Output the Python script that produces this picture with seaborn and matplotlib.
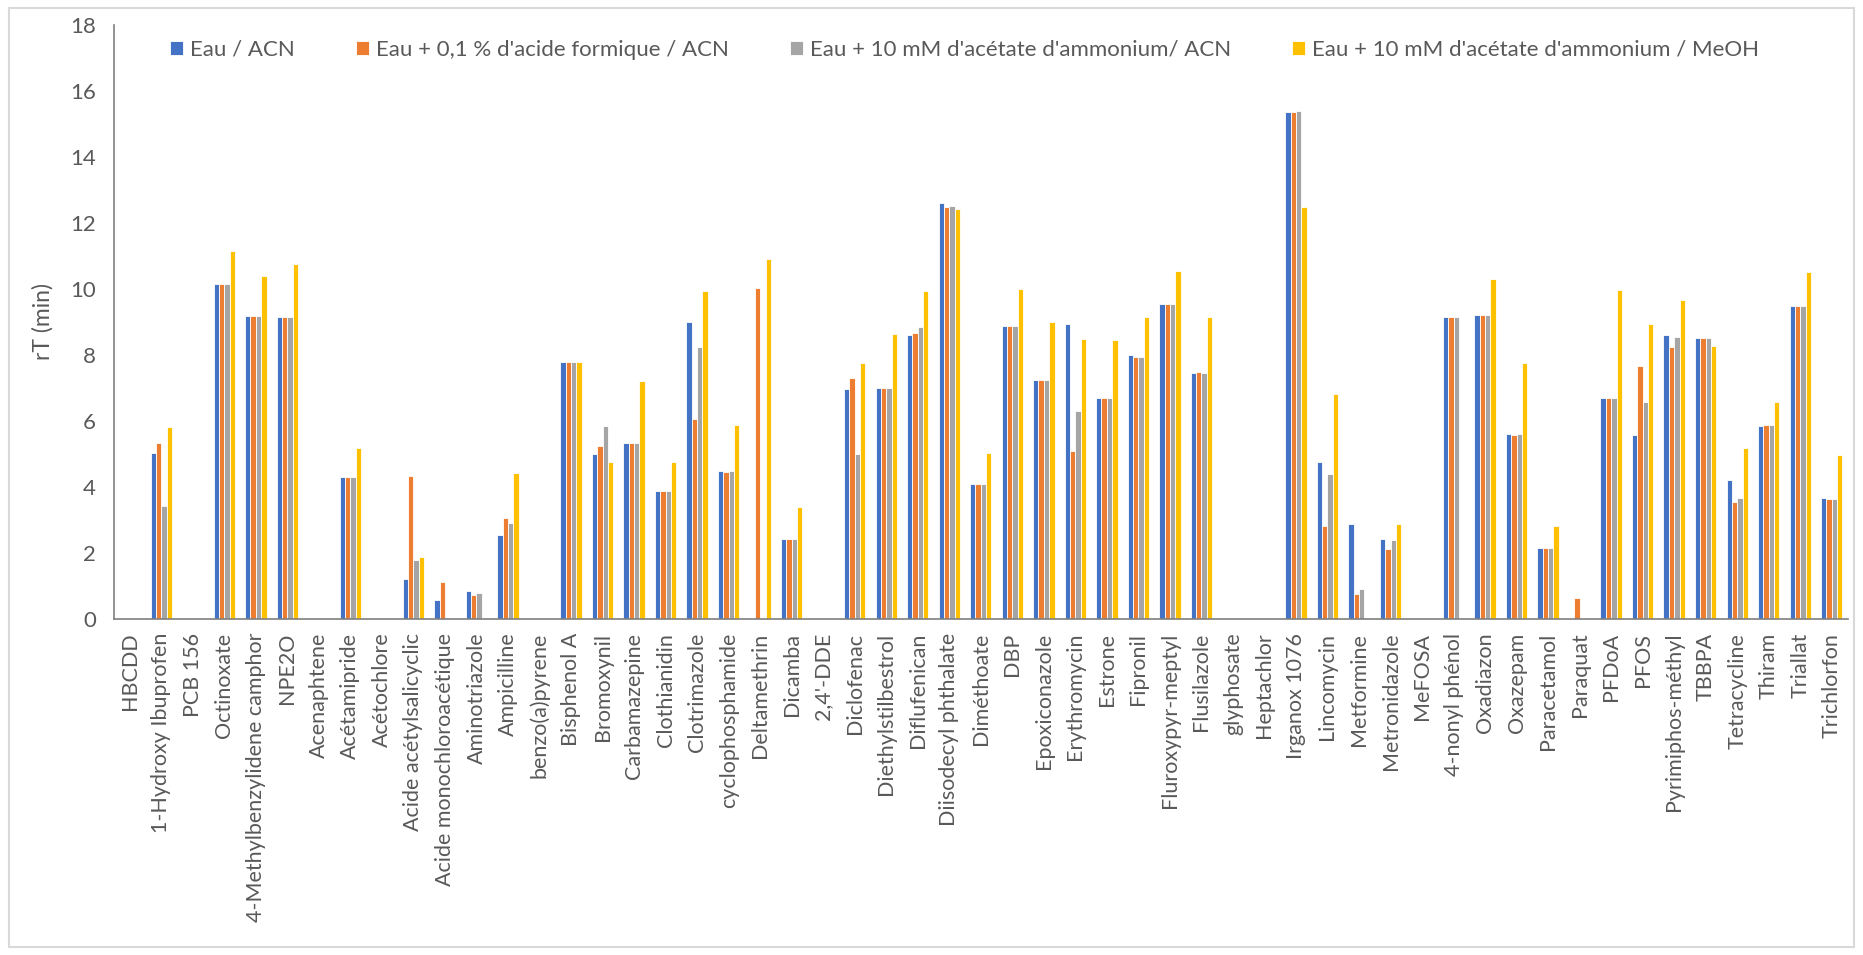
import matplotlib
matplotlib.use('Agg')
import matplotlib.pyplot as plt
import numpy as np
import pandas as pd
import seaborn as sns
from matplotlib.patches import Rectangle

nan = np.nan

# Compounds (x axis)
compounds = ['HBCDD', '1-Hydroxy Ibuprofen', 'PCB 156', 'Octinoxate',
             '4-Methylbenzylidene camphor', 'NPE2O', 'Acenaphtene', 'Acétamipride',
             'Acétochlore', 'Acide acétylsalicyclic', 'Acide monochloroacétique',
             'Aminotriazole', 'Ampicilline', 'benzo(a)pyrene', 'Bisphenol A',
             'Bromoxynil', 'Carbamazepine', 'Clothianidin', 'Clotrimazole',
             'cyclophosphamide', 'Deltamethrin', 'Dicamba', "2,4'-DDE", 'Diclofenac',
             'Diethylstilbestrol', 'Diflufenican', 'Diisodecyl phthalate', 'Diméthoate',
             'DBP', 'Epoxiconazole', 'Erythromycin', 'Estrone', 'Fipronil',
             'Fluroxypyr-meptyl', 'Flusilazole', 'glyphosate', 'Heptachlor',
             'Irganox 1076', 'Lincomycin', 'Metformine', 'Metronidazole', 'MeFOSA',
             '4-nonyl phénol', 'Oxadiazon', 'Oxazepam', 'Paracetamol', 'Paraquat',
             'PFDoA', 'PFOS', 'Pyrimiphos-méthyl', 'TBBPA', 'Tetracycline', 'Thiram',
             'Triallat', 'Trichlorfon']

series_names = ['Eau / ACN',
                "Eau + 0,1 % d'acide formique / ACN",
                "Eau + 10 mM d'acétate d'ammonium/ ACN",
                "Eau + 10 mM d'acétate d'ammonium / MeOH"]

# retention times (min), NaN = not detected
eau_acn = [nan, 5.04, nan, 10.16, 9.19, 9.14, nan, 4.29, nan, 1.20, 0.57,
           0.84, 2.55, nan, 7.79, 5.00, 5.34, 3.86, 8.99, 4.48, nan, 2.41, nan,
           6.97, 7.00, 8.60, 12.61, 4.08, 8.87, 7.24, 8.94, 6.69, 7.98, 9.54,
           7.44, nan, nan, 15.37, 4.75, 2.88, 2.41, nan, 9.14, 9.22, 5.60, 2.14,
           nan, 6.69, 5.57, 8.60, 8.52, 4.21, 5.84, 9.49, 3.66]
formique_acn = [nan, 5.34, nan, 10.16, 9.19, 9.14, nan, 4.29, nan, 4.34, 1.11,
                0.72, 3.06, nan, 7.79, 5.23, 5.34, 3.86, 6.05, 4.44, 10.03, 2.41, nan,
                7.31, 7.00, 8.65, 12.48, 4.08, 8.87, 7.24, 5.10, 6.69, 7.93, 9.54,
                7.48, nan, nan, 15.37, 2.81, 0.74, 2.12, nan, 9.14, 9.22, 5.57, 2.14,
                0.63, 6.69, 7.66, 8.25, 8.52, 3.55, 5.88, 9.49, 3.64]
acetate_acn = [nan, 3.43, nan, 10.16, 9.19, 9.14, nan, 4.29, nan, 1.77, nan,
               0.79, 2.89, nan, 7.79, 5.85, 5.34, 3.86, 8.25, 4.48, nan, 2.41, nan,
               5.00, 7.00, 8.83, 12.51, 4.08, 8.87, 7.24, 6.31, 6.69, 7.93, 9.54,
               7.44, nan, nan, 15.40, 4.40, 0.90, 2.38, nan, 9.14, 9.22, 5.60, 2.14,
               nan, 6.69, 6.57, 8.55, 8.52, 3.67, 5.88, 9.49, 3.64]
acetate_meoh = [nan, 5.80, nan, 11.16, 10.39, 10.74, nan, 5.18, nan, 1.86, nan,
                nan, 4.42, nan, 7.79, 4.76, 7.20, 4.76, 9.92, 5.88, 10.89, 3.39, nan,
                7.74, 8.64, 9.92, 12.41, 5.04, 10.00, 8.98, 8.49, 8.45, 9.14, 10.55,
                9.14, nan, nan, 12.48, 6.82, nan, 2.88, nan, nan, 10.31, 7.74, 2.81,
                nan, 9.96, 8.94, 9.67, 8.28, 5.17, 6.57, 10.50, 4.95]

colors = ['#4472C4', '#ED7D31', '#A5A5A5', '#FFC000']

df = pd.DataFrame({
    'compound': compounds * 4,
    'serie': np.repeat(series_names, len(compounds)),
    'rT': eau_acn + formique_acn + acetate_acn + acetate_meoh,
})

sns.set_style('white')
plt.rcParams['font.family'] = ['Lato', 'DejaVu Sans']
txt = '#595959'

fig = plt.figure(figsize=(18.63, 9.55), dpi=100)
ax = fig.add_axes([0.0612, 0.352, 0.9305, 0.622])

sns.barplot(data=df, x='compound', y='rT', hue='serie', order=compounds,
            hue_order=series_names, palette=colors, width=0.68, saturation=1,
            edgecolor='white', linewidth=0.6, errorbar=None, ax=ax)

ax.set_xlim(-0.5, len(compounds) - 0.5)
ax.set_ylim(0, 18)
ax.set_yticks(np.arange(0, 19, 2))
ax.set_xticks(np.arange(len(compounds)))
ax.set_xticklabels(compounds, rotation=90, ha='center', va='top')
ax.set_xticks(np.arange(len(compounds) + 1) - 0.5, minor=True)
ax.tick_params(axis='x', which='major', length=0, pad=10, labelsize=15.5, colors=txt)
ax.tick_params(axis='x', which='minor', length=10, direction='inout', color='#7f7f7f', width=1.2)
ax.tick_params(axis='y', length=10, direction='inout', color='#7f7f7f', width=1.2,
               labelsize=16, colors=txt, pad=8)
ax.set_xlabel('')
ax.set_ylabel('rT (min)', fontsize=16.5, color=txt, labelpad=12)

sns.despine(ax=ax)
for s in ['left', 'bottom']:
    ax.spines[s].set_color('#7f7f7f')
    ax.spines[s].set_linewidth(1.2)

handles, labels = ax.get_legend_handles_labels()
ax.legend(handles, labels, loc='center left', bbox_to_anchor=(0.0805, 0.948),
          bbox_transform=fig.transFigure, ncol=4, frameon=False, fontsize=16,
          handlelength=0.6, handleheight=0.6, handletextpad=0.3, columnspacing=2.75,
          labelcolor=txt)

fig.patches.append(Rectangle((0.005, 0.008), 0.99, 0.984, transform=fig.transFigure,
                             fill=False, edgecolor='#d9d9d9', linewidth=1.5))

fig.savefig('out.png', dpi=100)
